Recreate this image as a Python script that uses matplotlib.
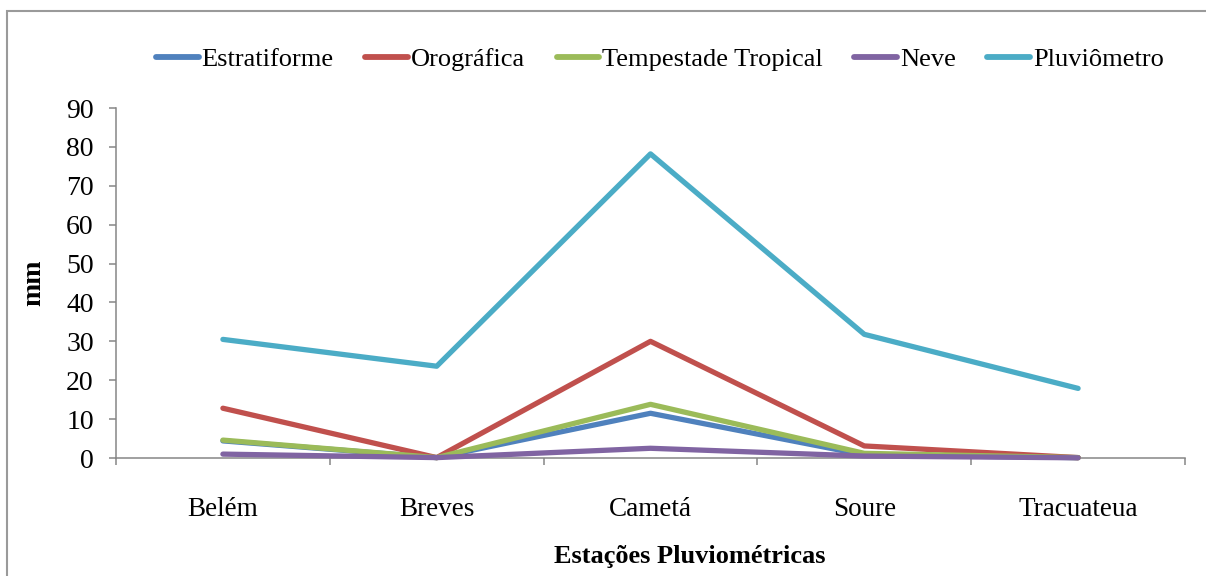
import matplotlib.pyplot as plt
from matplotlib.patches import Rectangle
from matplotlib.ticker import FixedLocator

# Precipitação por tipo de chuva em cada estação
estacoes = ['Belém', 'Breves', 'Cametá', 'Soure', 'Tracuateua']
estratiforme = [4.4, 0.1, 11.5, 0.8, 0.1]
orografica = [12.8, 0.1, 30.0, 3.1, 0.1]
tempestade_tropical = [4.6, 0.1, 13.8, 1.2, 0.1]
neve = [1.0, 0.1, 2.5, 0.5, 0.05]
pluviometro = [30.5, 23.6, 78.2, 31.8, 17.9]

series = [
    ('Estratiforme', estratiforme, '#4F81BD'),
    ('Orográfica', orografica, '#C0504D'),
    ('Tempestade Tropical', tempestade_tropical, '#9BBB59'),
    ('Neve', neve, '#8064A2'),
    ('Pluviômetro', pluviometro, '#4BACC6'),
]

plt.rcParams['font.family'] = ['Liberation Serif', 'DejaVu Serif']
grid_color = '#868686'

fig = plt.figure(figsize=(12.06, 5.76), dpi=100)
ax = fig.add_axes([116 / 1206, 1 - 458 / 576, (1185 - 116) / 1206, (458 - 108) / 576])

x = list(range(len(estacoes)))
for name, vals, color in series:
    ax.plot(x, vals, color=color, lw=3.8, label=name,
            solid_capstyle='round', clip_on=False, zorder=3)

ax.set_xlim(-0.5, len(estacoes) - 0.5)
ax.set_ylim(0, 90)
ax.set_yticks(range(0, 91, 10))
ax.set_xticks(x)
ax.set_xticklabels(estacoes)
ax.xaxis.set_minor_locator(FixedLocator([i - 0.5 for i in range(len(estacoes) + 1)]))

for side in ['top', 'right']:
    ax.spines[side].set_visible(False)
for side in ['left', 'bottom']:
    ax.spines[side].set_color(grid_color)
    ax.spines[side].set_linewidth(1.1)

ax.tick_params(axis='y', direction='out', length=5, width=1.1, color=grid_color,
               labelsize=20, pad=11)
ax.tick_params(axis='x', which='major', length=0, labelsize=19.5, pad=28)
ax.tick_params(axis='x', which='minor', direction='out', length=5, width=1.1,
               color=grid_color)

ax.set_ylabel('mm', fontsize=20, fontweight='bold', labelpad=14)
ax.set_xlabel('Estações Pluviométricas', fontsize=19, fontweight='bold')
ax.xaxis.set_label_coords(0.537, -0.25)

leg = fig.legend(loc='center', bbox_to_anchor=(660 / 1206, 1 - 59 / 576), ncol=5,
                 frameon=False, fontsize=19, handlelength=1.6, handletextpad=0.12,
                 columnspacing=1.2)
for h in leg.get_lines():
    h.set_linewidth(4.2)

# moldura do gráfico
fig.patches.append(Rectangle((7 / 1206, -0.1), 2.0, 1 - 10.5 / 576 + 0.1,
                             transform=fig.transFigure, fill=False,
                             edgecolor='#9a9a9a', lw=1.5))

fig.savefig('out.png', dpi=100)
